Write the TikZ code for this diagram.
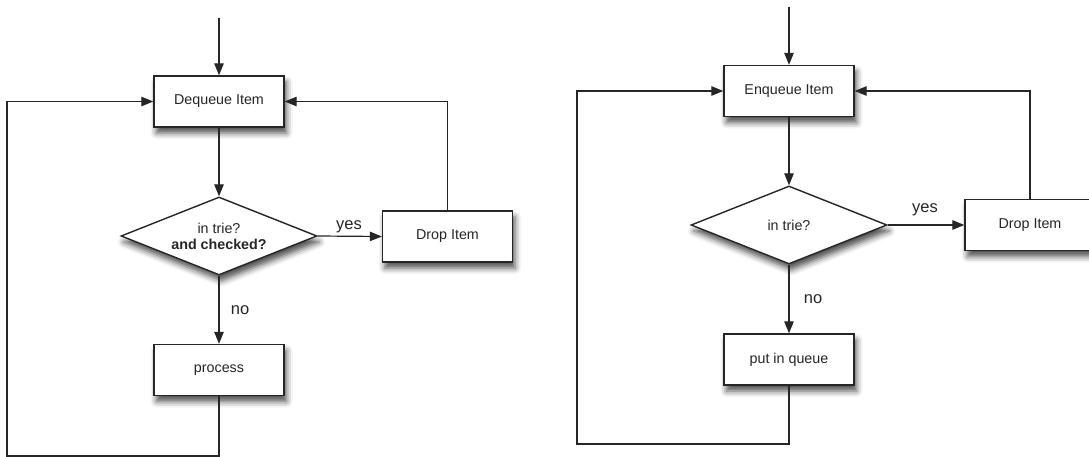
\documentclass[tikz,border=0pt]{standalone}
\usepackage{fontspec}
\setmainfont{Liberation Sans}
\usetikzlibrary{arrows.meta,shapes.geometric,shadows.blur}
\begin{document}
\begin{tikzpicture}[x=1pt,y=-1pt,
  box/.style={draw=black!85, line width=1.4pt, fill=white, rectangle,
    minimum width=130pt, minimum height=51pt, inner sep=0pt,
    text=black!85, font=\fontsize{14.3}{16}\selectfont,
    blur shadow={shadow xshift=2.5pt, shadow yshift=-6pt, shadow blur radius=6pt, shadow opacity=70}},
  dia/.style={draw=black!85, line width=1.4pt, fill=white, diamond, aspect=2.5,
    minimum width=196pt, minimum height=78pt, inner sep=0pt, align=center,
    text=black!85, font=\fontsize{14.3}{16}\selectfont,
    blur shadow={shadow xshift=2.5pt, shadow yshift=-6pt, shadow blur radius=6pt, shadow opacity=70}},
  conn/.style={draw=black!85, line width=1.2pt},
  arr/.style={conn, -{Triangle[length=12pt,width=9.5pt]}},
  lbl/.style={text=black!85, font=\fontsize{16.5}{18}\selectfont, inner sep=0pt}
]
\useasboundingbox (0,0) rectangle (1089,457);

% ---------- left flowchart ----------
\coordinate (in1) at (219,18);
\node[box] (deq) at (219,101.5) {Dequeue Item};
\node[dia] (d1) at (219,236) {in trie?\\\textbf{and checked?}};
\node[box] (drop1) at (447.5,236.5) {Drop Item};
\node[box] (proc) at (219,370) {process};
\coordinate (bl1) at (7,456);
\node[lbl] (yes1) at (349,227) {yes};
\node[lbl] (no1) at (240,310) {no};

\draw[arr] (in1) -- (deq.north);
\draw[arr] (deq.south) -- (d1.north);
\draw[arr] (d1.east) -- (drop1.west);
\draw[arr] (drop1.north) -- (drop1.north |- deq.east) -- (deq.east);
\draw[arr] (d1.south) -- (proc.north);
\draw[arr] (proc.south) -- (proc.south |- bl1) -- (bl1) -- (bl1 |- deq.west) -- (deq.west);

% ---------- right flowchart ----------
\coordinate (in2) at (789,7);
\node[box] (enq) at (789,91) {Enqueue Item};
\node[dia] (d2) at (789,225) {in trie?};
\node[box] (drop2) at (1030,225) {Drop Item};
\node[box] (put) at (789,359.5) {put in queue};
\coordinate (bl2) at (577,444);
\node[lbl] (yes2) at (925,210) {yes};
\node[lbl] (no2) at (813,299) {no};

\draw[arr] (in2) -- (enq.north);
\draw[arr] (enq.south) -- (d2.north);
\draw[arr] (d2.east) -- (drop2.west);
\draw[arr] (drop2.north) -- (drop2.north |- enq.east) -- (enq.east);
\draw[arr] (d2.south) -- (put.north);
\draw[arr] (put.south) -- (put.south |- bl2) -- (bl2) -- (bl2 |- enq.west) -- (enq.west);
\end{tikzpicture}
\end{document}
